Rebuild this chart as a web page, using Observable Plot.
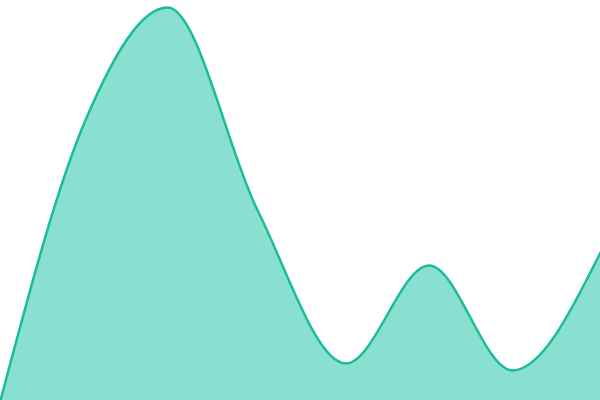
<!DOCTYPE html>
<html><head><meta charset="utf-8">
<script src="https://cdn.jsdelivr.net/npm/d3@7"></script>
<script src="https://cdn.jsdelivr.net/npm/@observablehq/plot@0.6"></script>
<style>html,body{margin:0;padding:0;background:#fff;overflow:hidden}</style>
</head><body><div id="chart"></div>
<script>
const xs = [0, 1, 1.95, 3, 4.03, 5, 5.97, 7];
const values = [0, 282, 393, 190, 37, 135, 30, 148];
const data = xs.map((x, i) => ({x, v: values[i]}));
const chart = Plot.plot({
  width: 600, height: 400,
  margin: 0,
  x: {domain: [0, 7], axis: null},
  y: {domain: [0, 400], axis: null},
  marks: [
    Plot.areaY(data, {x: "x", y: "v", curve: "monotone-x", fill: "#8ae0d0"}),
    Plot.lineY(data, {x: "x", y: "v", curve: "monotone-x", stroke: "#1abc9c", strokeWidth: 2.5})
  ]
});
document.getElementById("chart").appendChild(chart);
</script></body></html>
